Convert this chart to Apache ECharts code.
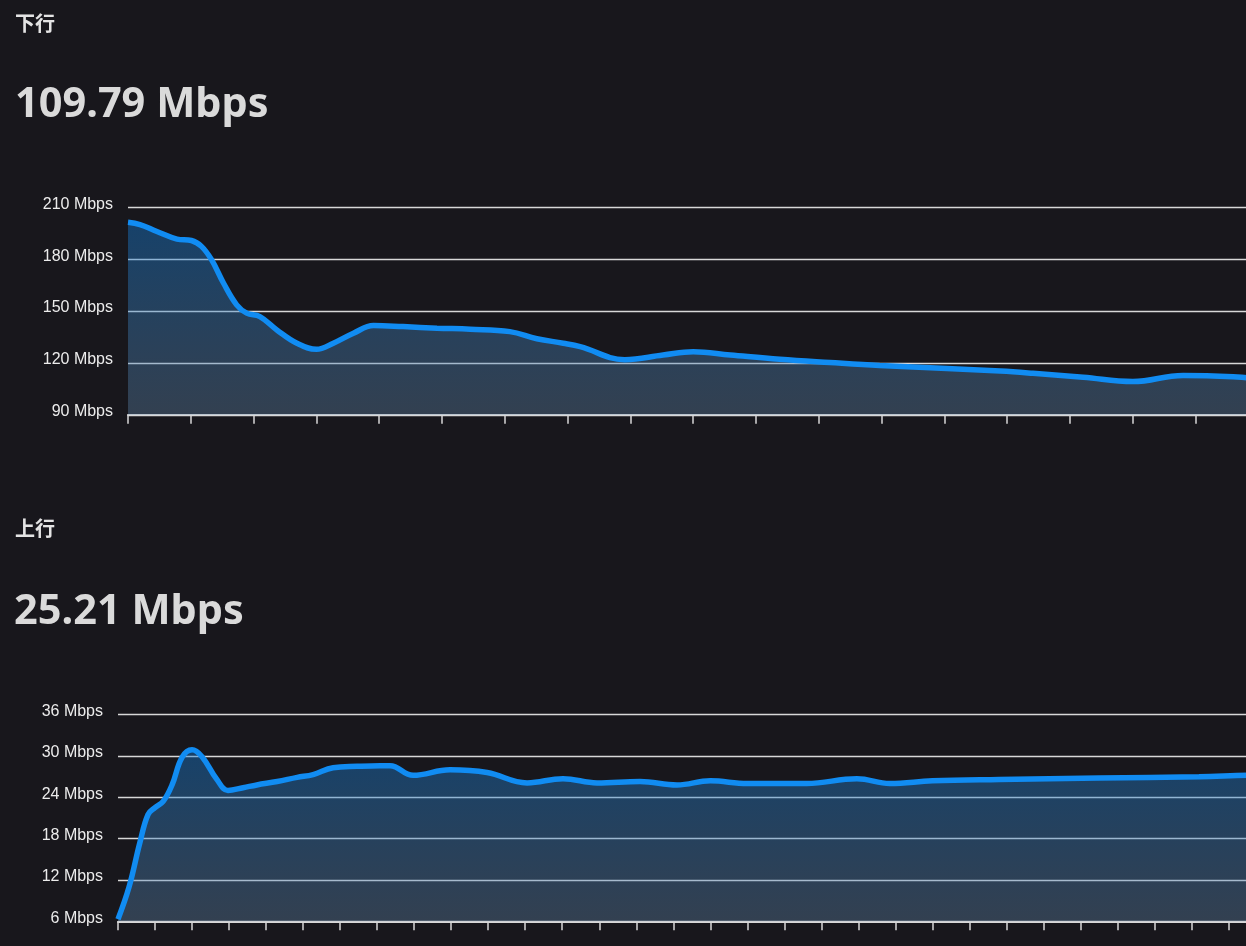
<!DOCTYPE html>
<html>
<head>
<meta charset="utf-8">
<script src="https://cdn.jsdelivr.net/npm/echarts@6/dist/echarts.min.js"></script>
<style>
  html, body { margin: 0; padding: 0; background: #18171c; overflow: hidden; }
  #chart { width: 1400px; height: 946px; }
</style>
</head>
<body>
<div id="chart"></div>
<script>
// ---- data ----
const downLabel = '下行';
const downSpeed = '109.79 Mbps';
const upLabel = '上行';
const upSpeed = '25.21 Mbps';

const downTime = [0, 0.19, 0.46, 0.78, 1.01, 1.17, 1.33, 1.52, 1.73, 1.89, 2.10, 2.37, 2.69, 3.00, 3.27, 3.59, 3.91, 4.38, 4.92, 5.45, 6.08, 6.51, 6.93, 7.20, 7.91, 8.52, 9.00, 9.59, 10.38, 11.18, 11.97, 13.04, 13.89, 14.41, 15.21, 16.0, 16.8, 17.6, 18.2, 19.0];
const downValues = [201.3, 200, 196, 191.6, 190.8, 187.4, 179.7, 166.2, 153.6, 148.8, 146.8, 139.1, 131.4, 127.9, 131.4, 137.2, 141.6, 141, 140.1, 139.5, 138.1, 134, 131.4, 129.4, 121.9, 124.6, 126.5, 124.6, 122.1, 120.2, 118.5, 116.8, 115.3, 114, 111.7, 109.2, 112.8, 112, 110.3, 109.5];

const upTime = [0, 0.3, 0.59, 0.81, 1.0, 1.22, 1.46, 1.73, 2.0, 2.27, 2.67, 2.97, 3.38, 3.75, 4.3, 4.84, 5.27, 5.81, 6.46, 7.08, 7.35, 7.97, 8.97, 9.97, 11.05, 12.02, 12.94, 14.1, 15.1, 16.0, 17.0, 18.6, 19.96, 20.85, 22.0, 23.8, 26.5, 29.2, 30.5, 32.0];
const upValues = [6.3, 11.0, 17.4, 21.5, 22.5, 23.4, 25.8, 29.8, 30.9, 29.9, 26.6, 25.0, 25.4, 25.8, 26.3, 26.9, 27.3, 28.3, 28.5, 28.6, 28.6, 27.2, 28.0, 27.6, 26.1, 26.7, 26.1, 26.3, 25.8, 26.4, 26.0, 26.0, 26.7, 26.0, 26.4, 26.6, 26.8, 27.0, 27.2, 27.3];

const downTicks = { min: 90, max: 210, interval: 30 };
const upTicks = { min: 6, max: 36, interval: 6 };
const downXMax = 20;
const upXMax = 34;

// ---- chart ----
const chart = echarts.init(document.getElementById('chart'), null, { renderer: 'canvas' });

const lineColor = '#118cf2';
const areaFill = {
  type: 'linear', x: 0, y: 0, x2: 0, y2: 1,
  colorStops: [
    { offset: 0, color: 'rgba(20,125,215,0.6)' },
    { offset: 1, color: 'rgba(100,140,178,0.5)' }
  ]
};

function xAxisCfg(gridIndex, max) {
  return {
    type: 'value', gridIndex, min: 0, max, interval: 1,
    axisLine: { show: true, lineStyle: { color: '#d8d8d8', width: 2 } },
    axisTick: { show: true, length: 9, lineStyle: { color: '#d8d8d8', width: 1.5 } },
    axisLabel: { show: false },
    splitLine: { show: false }
  };
}
function yAxisCfg(gridIndex, t) {
  return {
    type: 'value', gridIndex, min: t.min, max: t.max, interval: t.interval,
    axisLine: { show: false }, axisTick: { show: false },
    axisLabel: {
      color: '#ececec', fontSize: 16, fontFamily: 'Liberation Sans, Arial, sans-serif',
      margin: 15, formatter: v => v + ' Mbps', verticalAlign: 'bottom', lineHeight: 20,
      padding: [0, 0, -7, 0]
    },
    splitLine: { show: true, lineStyle: { color: '#d8d8d8', width: 1.3 } }
  };
}

const titleFont = 'bold 20px "Noto Sans CJK SC", sans-serif';
const bigFont = 'bold 41.5px "Noto Sans", sans-serif';

chart.setOption({
  backgroundColor: '#18171c',
  animation: false,
  graphic: [
    { type: 'text', left: 15, top: 13, style: { text: downLabel, font: titleFont, fill: '#e4e4e4' } },
    { type: 'text', left: 15, top: 84, style: { text: downSpeed, font: bigFont, fill: '#dadada' } },
    { type: 'text', left: 15, top: 518, style: { text: upLabel, font: titleFont, fill: '#e4e4e4' } },
    { type: 'text', left: 14, top: 591, style: { text: upSpeed, font: bigFont, fill: '#dadada' } }
  ],
  grid: [
    { left: 128, top: 207.3, width: downXMax * 62.8, height: 207.5 },
    { left: 118, top: 714.7, width: upXMax * 37.02, height: 206.6 }
  ],
  xAxis: [xAxisCfg(0, downXMax), xAxisCfg(1, upXMax)],
  yAxis: [yAxisCfg(0, downTicks), yAxisCfg(1, upTicks)],
  series: [
    {
      type: 'line', xAxisIndex: 0, yAxisIndex: 0,
      data: downTime.map((t, i) => [t, downValues[i]]),
      smooth: 0.4, symbol: 'none', clip: true,
      lineStyle: { color: lineColor, width: 5.5 },
      areaStyle: { color: areaFill }
    },
    {
      type: 'line', xAxisIndex: 1, yAxisIndex: 1,
      data: upTime.map((t, i) => [t, upValues[i]]),
      smooth: 0.4, symbol: 'none', clip: true,
      lineStyle: { color: lineColor, width: 5.5 },
      areaStyle: { color: areaFill }
    }
  ]
});
</script>
</body>
</html>
